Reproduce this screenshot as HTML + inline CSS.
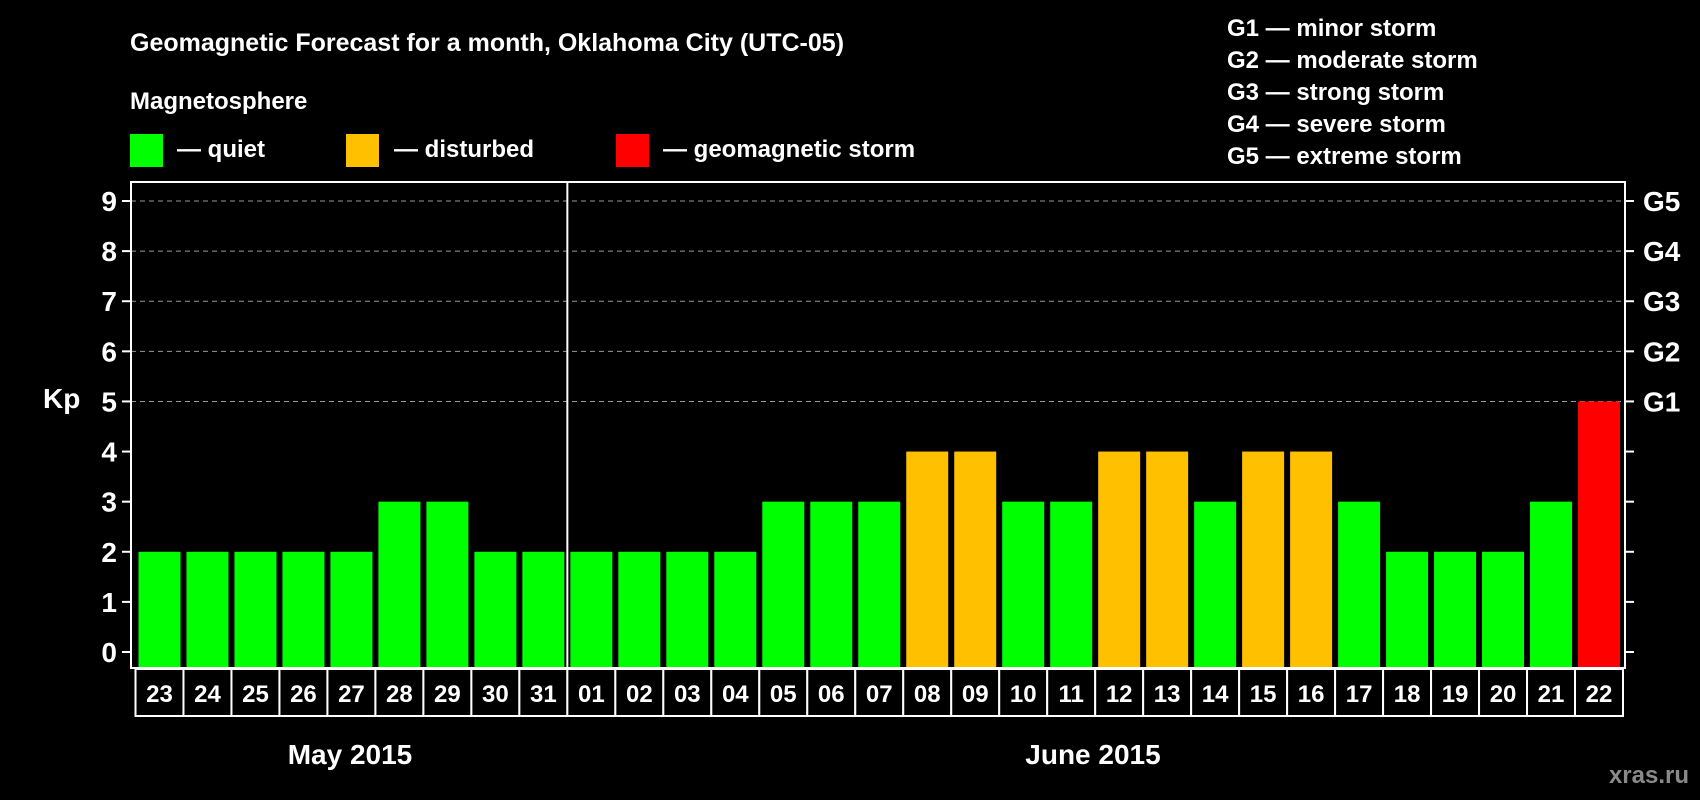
<!DOCTYPE html>
<html><head><meta charset="utf-8"><style>
html,body{margin:0;padding:0;background:#000;}
svg{display:block;font-family:"Liberation Sans",Arial,sans-serif;font-weight:bold;}
</style></head><body>
<svg id="chart" width="1700" height="800" viewBox="0 0 1700 800">
<text x="130" y="51" fill="#fff" font-size="25">Geomagnetic Forecast for a month, Oklahoma City (UTC-05)</text>
<text x="130" y="109" fill="#fff" font-size="24">Magnetosphere</text>
<g><rect x="130" y="134" width="33" height="33" fill="#00ff00"/><text x="177" y="157" fill="#fff" font-size="24">— quiet</text></g>
<g><rect x="346" y="134" width="33" height="33" fill="#ffc000"/><text x="394" y="157" fill="#fff" font-size="24">— disturbed</text></g>
<g><rect x="616" y="134" width="33" height="33" fill="#ff0000"/><text x="663" y="157" fill="#fff" font-size="24">— geomagnetic storm</text></g>
<g fill="#fff" font-size="24">
<text x="1227" y="36">G1 — minor storm</text>
<text x="1227" y="68">G2 — moderate storm</text>
<text x="1227" y="100">G3 — strong storm</text>
<text x="1227" y="132">G4 — severe storm</text>
<text x="1227" y="164">G5 — extreme storm</text>
</g>
<text x="43" y="408" fill="#fff" font-size="28">Kp</text>
<text x="350" y="764" fill="#fff" font-size="28" text-anchor="middle">May 2015</text>
<text x="1093" y="764" fill="#fff" font-size="28" text-anchor="middle">June 2015</text>
<text x="1689" y="783" fill="#8a8a8a" font-size="24" text-anchor="end">xras.ru</text>
<g id="grid"></g><g id="bars"></g><g id="axes"></g>
</svg>
<script>
const days = ["23","24","25","26","27","28","29","30","31","01","02","03","04","05","06","07","08","09","10","11","12","13","14","15","16","17","18","19","20","21","22"];
const kpValues = [2,2,2,2,2,3,3,2,2,2,2,2,2,3,3,3,4,4,3,3,4,4,3,4,4,3,2,2,2,3,5];
const yTicks = [0,1,2,3,4,5,6,7,8,9];
const gLabels = ["G1","G2","G3","G4","G5"];
const NS="http://www.w3.org/2000/svg";
const L=131,R=1625,T=182,B=668,Y0=652,Y9=201;
const cellL=135.5,cellW=(1623-135.5)/days.length;
const y=v=>Y0-(Y0-Y9)*v/9;
const x=i=>cellL+cellW*i;
function mk(tag,a,p){const e=document.createElementNS(NS,tag);for(const k in a)e.setAttribute(k,a[k]);p.appendChild(e);return e;}
const grid=document.getElementById('grid'),bars=document.getElementById('bars'),axes=document.getElementById('axes');
yTicks.forEach(v=>{
 if(v>=5){const g=mk('line',{x1:L,x2:R,y1:y(v),y2:y(v),stroke:'#999','stroke-width':1,'stroke-dasharray':'5,4'},grid);
 
 }
 const t=mk('line',{x1:L-9,x2:L,y1:y(v),y2:y(v),stroke:'#fff','stroke-width':2},axes);
 
 
 const tr=mk('line',{x1:R,x2:R+9,y1:y(v),y2:y(v),stroke:'#fff','stroke-width':2},axes);
 
 
 const lb=mk('text',{x:L-14,y:y(v)+10,fill:'#fff','font-size':28,'text-anchor':'end'},axes);lb.textContent=v;
 
 
});
gLabels.forEach((g,i)=>{const t=mk('text',{x:1643,y:y(5+i)+10,fill:'#fff','font-size':28},axes);t.textContent=g;
 
 });
kpValues.forEach((v,i)=>{
 const c=v>=5?'#ff0000':(v>=4?'#ffc000':'#00ff00');
 const r=mk('rect',{x:x(i)+3,y:y(v),width:cellW-6,height:B-y(v),fill:c},bars);
 
 
});
const fr=mk('rect',{x:L,y:T,width:R-L,height:B-T,fill:'none',stroke:'#fff','stroke-width':2},axes);


const dv=mk('line',{x1:x(9),x2:x(9),y1:T,y2:B,stroke:'#fff','stroke-width':2},axes);


days.forEach((d,i)=>{
 const b=mk('rect',{x:x(i),y:669,width:cellW,height:47,fill:'#000',stroke:'#fff','stroke-width':2},axes);
 
 
 const t=mk('text',{x:x(i)+cellW/2,y:702,fill:'#fff','font-size':24,'text-anchor':'middle'},axes);t.textContent=d;
 
 
});
</script>
</body></html>
